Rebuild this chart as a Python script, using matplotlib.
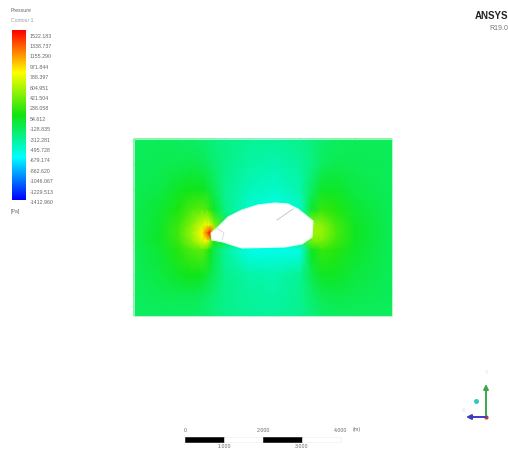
import matplotlib
matplotlib.use("Agg")
import matplotlib.pyplot as plt
from matplotlib.colors import LinearSegmentedColormap
from matplotlib.patches import Polygon, Rectangle
import numpy as np

W, H = 508, 450
plt.rcParams['font.family'] = ['Liberation Sans Narrow', 'Liberation Sans', 'DejaVu Sans']

title_text = "Pressure"
subtitle_text = "Contour 1"
unit_text = "[Pa]"
level_labels = ["1522.183", "1338.737", "1155.290", "971.844", "788.397", "604.951",
                "421.504", "238.058", "54.612", "-128.835", "-312.281", "-495.728",
                "-679.174", "-862.620", "-1046.067", "-1229.513", "-1412.960"]
vmin, vmax = -1412.960, 1522.183
scale_top = ["0", "2.000", "4.000"]
scale_bottom = ["1.000", "3.000"]

grid_x = [134, 160, 178, 192, 202, 207, 210, 214, 225, 250, 275, 300, 312, 322, 336, 355, 392]
grid_y = [139, 165, 190, 210, 225, 233, 241, 250, 275, 295, 316]
pressure = [
    [-180, -170, -180, -200, -230, -250, -260, -270, -300, -350, -360, -320, -270, -230, -190, -170, -170],
    [-170, -150, -130, -120, -150, -180, -200, -240, -310, -400, -430, -380, -290, -180, -130, -150, -170],
    [-160, -110, -20, 40, 10, -40, -90, -160, -330, -470, -510, -420, -180, -20, -20, -110, -170],
    [-150, -60, 90, 240, 290, 240, 140, -20, -310, -540, -620, -520, -30, 170, 110, -40, -170],
    [-150, -30, 170, 420, 650, 750, 700, 400, -120, -500, -580, -300, 480, 430, 210, -10, -170],
    [-150, -20, 200, 480, 800, 1250, 1500, 900, -120, -430, -430, -220, 480, 460, 230, 0, -170],
    [-150, -20, 180, 430, 680, 800, 500, 100, -120, -430, -430, -220, 380, 380, 200, -10, -170],
    [-160, -50, 120, 240, 290, 190, 30, -120, -380, -620, -620, -600, 20, 170, 120, -30, -170],
    [-170, -100, -20, 40, 0, -60, -110, -170, -320, -410, -430, -350, -120, -10, -10, -90, -170],
    [-180, -150, -130, -140, -170, -200, -220, -250, -320, -380, -400, -340, -220, -130, -110, -140, -170],
    [-190, -190, -200, -210, -230, -250, -260, -280, -320, -360, -370, -330, -280, -220, -190, -180, -180],
]
body_x = [211, 217, 228, 242, 258, 275, 288, 298, 313, 312, 302, 285, 242, 232, 223, 212]
body_y = [233, 228, 217, 210, 205, 203, 204, 209, 221, 237, 244, 247, 248, 245, 242, 240]
screen_x = [277, 293]
screen_y = [220, 209]
front_x = [217, 224, 222]
front_y = [228, 233, 240]

cmap = LinearSegmentedColormap.from_list(
    "ansys", [(0, "#0000ff"), (.25, "#00ffff"), (.5, "#10e410"), (.75, "#ffff00"), (1, "#ff0000")])

fig = plt.figure(figsize=(W / 100, H / 100), dpi=100, facecolor="white")
ax = fig.add_axes([0, 0, 1, 1])
ax.set_xlim(0, W)
ax.set_ylim(H, 0)
ax.axis("off")

ax.pcolormesh(grid_x, grid_y, np.array(pressure, float), shading="gouraud",
              cmap=cmap, vmin=vmin, vmax=vmax, rasterized=True)
ax.add_patch(Rectangle((134, 139), 258, 177, fill=False, ec="#c0f4d0", lw=0.6))
ax.add_patch(Polygon(np.column_stack([body_x, body_y]), closed=True, fc="white", ec="#e0fff8", lw=0.8))
ax.plot(screen_x, screen_y, color="#c8c8c8", lw=0.7)
ax.plot(front_x, front_y, color="#d0d0d0", lw=0.5)

# colour bar
bar = np.linspace(vmax, vmin, 256).reshape(-1, 1)
ax.imshow(bar, extent=(12, 26, 200, 30), cmap=cmap, vmin=vmin, vmax=vmax, aspect="auto", interpolation="bilinear")
ax.set_xlim(0, W)
ax.set_ylim(H, 0)
txt = dict(color="#666666", fontsize=3.8, va="center")
ax.text(11, 10.5, title_text, **txt)
ax.text(11, 20, subtitle_text, color="#999999", fontsize=3.6, va="center")
for lab, y in zip(level_labels, np.linspace(36, 202.5, len(level_labels))):
    ax.text(30, y, lab, **txt)
ax.text(11, 212, unit_text, **txt)

# logo
ax.text(508, 16, "ANSYS", color="#222222", fontsize=7, fontweight="bold", ha="right", va="center")
ax.text(508, 28, "R19.0", color="#777777", fontsize=5, ha="right", va="center")

# scale bar
for x0, c in zip([185, 224, 263, 302], ["black", "white", "black", "white"]):
    ax.add_patch(Rectangle((x0, 436.5), 39, 5, fc=c, ec="black" if c == "black" else "#eeeeee", lw=0.4))
for x, lab in zip([185, 263, 341], scale_top):
    ax.text(x, 430, lab, ha="center", **txt)
ax.text(357, 430, "(m)", ha="center", **txt)
for x, lab in zip([224, 302], scale_bottom):
    ax.text(x, 447, lab, ha="center", **txt)

# triad
ax.annotate("", xy=(486, 384), xytext=(486, 417), arrowprops=dict(arrowstyle="-|>", color="#3aa84a", lw=1.4, mutation_scale=7, shrinkA=0, shrinkB=0))
ax.annotate("", xy=(466, 417), xytext=(486, 417), arrowprops=dict(arrowstyle="-|>", color="#3c3cc0", lw=1.4, mutation_scale=7, shrinkA=0, shrinkB=0))
ax.plot([486], [417], "o", ms=3, color="#d03030", mec="none")
ax.plot([475.5], [401], "o", ms=3.6, color="#30c8c0", mec="none")
ax.text(487, 373, "Y", color="#dddddd", fontsize=4, ha="center", va="center")
ax.text(464, 411, "X", color="#dddddd", fontsize=4, ha="center", va="center")

fig.savefig("out.png", dpi=100, facecolor="white")
